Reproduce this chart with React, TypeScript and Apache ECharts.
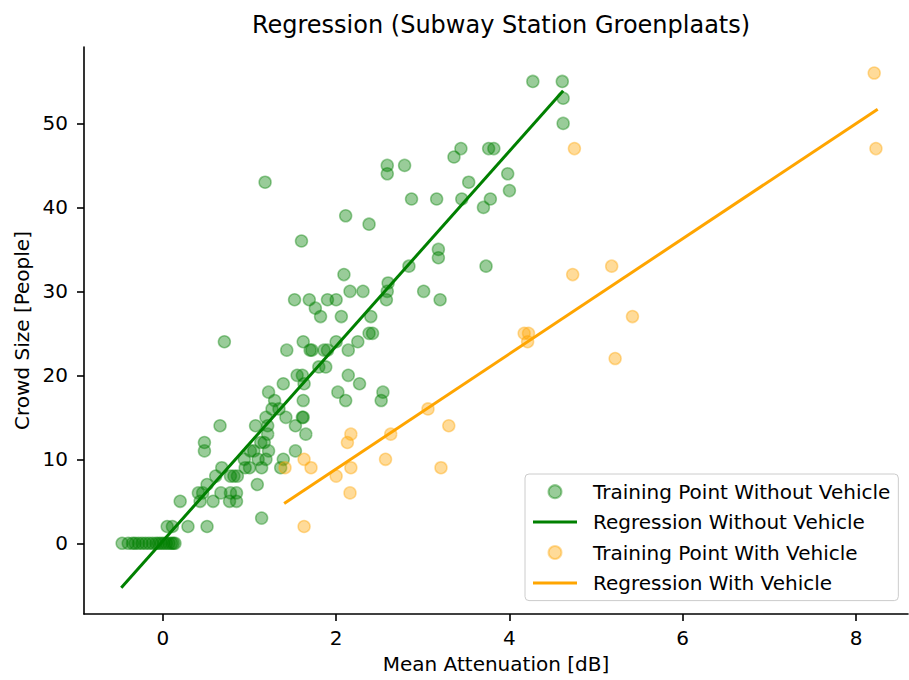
import React, { useEffect, useRef } from "react";
import * as echarts from "echarts";

const TITLE = "Regression (Subway Station Groenplaats)";
const X_NAME = "Mean Attenuation [dB]";
const Y_NAME = "Crowd Size [People]";
const SERIES_NAMES = [
  "Training Point Without Vehicle",
  "Regression Without Vehicle",
  "Training Point With Vehicle",
  "Regression With Vehicle",
];

const xTicks = [0, 2, 4, 6, 8];
const yTicks = [0, 10, 20, 30, 40, 50];

// Training points without vehicle
const greenX = [
  -0.47, -0.4, -0.35, -0.32, -0.28, -0.24, -0.2, -0.16, -0.12, -0.08, -0.05, -0.02, 0.01, 0.04, 0.07, 0.1, 0.12, 0.14,
  0.05, 0.11, 0.29, 0.51,
  1.14,
  0.2, 0.43, 0.58, 0.77, 0.85,
  0.41, 0.46, 0.67, 0.78, 0.85,
  0.51, 1.09,
  0.61, 0.78, 0.82, 0.86,
  0.68, 0.95, 1.0, 1.14, 1.36,
  0.94, 1.1, 1.19, 1.39,
  0.48, 1.01, 1.05, 1.22, 1.53,
  0.48, 1.13, 1.17,
  1.21, 1.65,
  0.66, 1.07, 1.21, 1.53,
  1.19, 1.42, 1.61, 1.62,
  1.26, 1.34,
  1.29, 1.62, 2.11, 2.52,
  1.22, 2.02, 2.54,
  1.39, 1.63, 2.27,
  1.55, 1.61, 2.14,
  1.8, 1.88,
  1.43, 1.7, 1.72, 1.86, 1.9, 2.14,
  0.71, 1.62, 2.0, 2.25,
  2.38, 2.42,
  1.82, 2.06, 2.4,
  1.76,
  1.52, 1.69, 1.9, 2.0, 2.58, 3.2,
  2.16, 2.31, 2.59, 3.01,
  2.6,
  2.09,
  2.84, 3.73,
  3.18,
  3.18,
  1.6,
  2.38,
  2.11,
  3.7,
  2.87, 3.16, 3.45, 3.78,
  4.0,
  1.18, 3.53,
  2.59, 3.98,
  2.59, 2.79,
  3.36,
  3.44, 3.76, 3.82,
  4.62,
  4.62,
  4.27, 4.61,
];
const greenY = [
  0, 0, 0, 0, 0, 0, 0, 0, 0, 0, 0, 0, 0, 0, 0, 0, 0, 0,
  2, 2, 2, 2,
  3,
  5, 5, 5, 5, 5,
  6, 6, 6, 6, 6,
  7, 7,
  8, 8, 8, 8,
  9, 9, 9, 9, 9,
  10, 10, 10, 10,
  11, 11, 11, 11, 11,
  12, 12, 12,
  13, 13,
  14, 14, 14, 14,
  15, 15, 15, 15,
  16, 16,
  17, 17, 17, 17,
  18, 18, 18,
  19, 19, 19,
  20, 20, 20,
  21, 21,
  23, 23, 23, 23, 23, 23,
  24, 24, 24, 24,
  25, 25,
  27, 27, 27,
  28,
  29, 29, 29, 29, 29, 29,
  30, 30, 30, 30,
  31,
  32,
  33, 33,
  34,
  35,
  36,
  38,
  39,
  40,
  41, 41, 41, 41,
  42,
  43, 43,
  44, 44,
  45, 45,
  46,
  47, 47, 47,
  50,
  53,
  55, 55,
];

// Training points with vehicle
const orangeX = [8.21, 8.23, 4.75, 4.73, 5.18, 5.42, 5.22, 4.17, 4.22, 4.21, 3.06, 3.3, 2.17, 2.13, 2.63, 1.63, 1.71, 1.41, 2.17, 2.57, 3.21, 2.0, 2.16, 1.63];
const orangeY = [56, 47, 47, 32, 33, 27, 22, 25, 25, 24, 16, 14, 13, 12, 13, 10, 9, 9, 9, 10, 9, 8, 6, 2];

// Regression line end points
const greenLineX = [-0.48, 4.62];
const greenLineY = [-5.3, 53.9];
const orangeLineX = [1.4, 8.25];
const orangeLineY = [4.74, 51.7];

const FONT = "DejaVu Sans";
const LINE_ICON = "path://M0,0H44V3H0Z";

const zip = (xs: number[], ys: number[]) => xs.map((x, i) => [x, ys[i]]);

export default function App() {
  const ref = useRef<HTMLDivElement>(null);
  useEffect(() => {
    if (!ref.current) return;
    const chart = echarts.init(ref.current, null, { renderer: "svg" });
    const axisCommon = {
      type: "value" as const,
      nameLocation: "middle" as const,
      nameTextStyle: { fontSize: 20, color: "#000", fontFamily: FONT },
      axisLine: { show: true, onZero: false, lineStyle: { color: "#000", width: 1.6 } },
      splitLine: { show: false },
    };
    chart.setOption({
      animation: false,
      backgroundColor: "#fff",
      title: {
        text: TITLE,
        left: 496,
        top: 8,
        textAlign: "center",
        textStyle: { fontSize: 24, fontWeight: "normal", color: "#000", fontFamily: FONT },
      },
      grid: { left: 84, right: 1, top: 47, bottom: 66, containLabel: false },
      xAxis: {
        ...axisCommon,
        min: -0.91,
        max: 8.6,
        name: X_NAME,
        nameGap: 40,
        axisTick: { show: true, inside: false, length: 7, lineStyle: { color: "#000", width: 1.6 }, customValues: xTicks },
        axisLabel: { fontSize: 20, color: "#000", fontFamily: FONT, margin: 14, customValues: xTicks },
      },
      yAxis: {
        ...axisCommon,
        min: -8.42,
        max: 59.1,
        name: Y_NAME,
        nameGap: 51,
        axisTick: { show: true, inside: false, length: 7, lineStyle: { color: "#000", width: 1.6 }, customValues: yTicks },
        axisLabel: { fontSize: 20, color: "#000", fontFamily: FONT, margin: 16, customValues: yTicks },
      },
      legend: {
        orient: "vertical",
        left: 525,
        top: 474,
        itemWidth: 44,
        itemHeight: 13,
        itemGap: 10.4,
        padding: [7.7, 8, 7.7, 8],
        borderColor: "#cccccc",
        borderWidth: 1,
        borderRadius: 4,
        backgroundColor: "rgba(255,255,255,0.8)",
        selectedMode: false,
        textStyle: { fontSize: 20, color: "#000", fontFamily: FONT, padding: [0, 0, 0, 11] },
        data: [
          { name: SERIES_NAMES[0], icon: "circle" },
          { name: SERIES_NAMES[1], icon: LINE_ICON, itemStyle: { color: "#008000", borderWidth: 0 } },
          { name: SERIES_NAMES[2], icon: "circle" },
          { name: SERIES_NAMES[3], icon: LINE_ICON, itemStyle: { color: "#FFA500", borderWidth: 0 } },
        ],
      },
      series: [
        {
          name: SERIES_NAMES[0],
          type: "scatter",
          data: zip(greenX, greenY),
          symbolSize: 12,
          itemStyle: { color: "rgba(0,128,0,0.5)", borderColor: "rgba(0,128,0,0.5)", borderWidth: 1.5 },
          z: 2,
        },
        {
          name: SERIES_NAMES[1],
          type: "line",
          data: zip(greenLineX, greenLineY),
          symbol: "none",
          showSymbol: false,
          lineStyle: { color: "#008000", width: 3 },
          itemStyle: { color: "#008000" },
          z: 3,
        },
        {
          name: SERIES_NAMES[2],
          type: "scatter",
          data: zip(orangeX, orangeY),
          symbolSize: 12,
          itemStyle: { color: "rgba(255,165,0,0.5)", borderColor: "rgba(255,165,0,0.5)", borderWidth: 1.5 },
          z: 4,
        },
        {
          name: SERIES_NAMES[3],
          type: "line",
          data: zip(orangeLineX, orangeLineY),
          symbol: "none",
          showSymbol: false,
          lineStyle: { color: "#FFA500", width: 3 },
          itemStyle: { color: "#FFA500" },
          z: 5,
        },
      ],
    });
    return () => chart.dispose();
  }, []);
  return <div ref={ref} style={{ position: "absolute", left: 0, top: 0, width: 909, height: 680 }} />;
}
